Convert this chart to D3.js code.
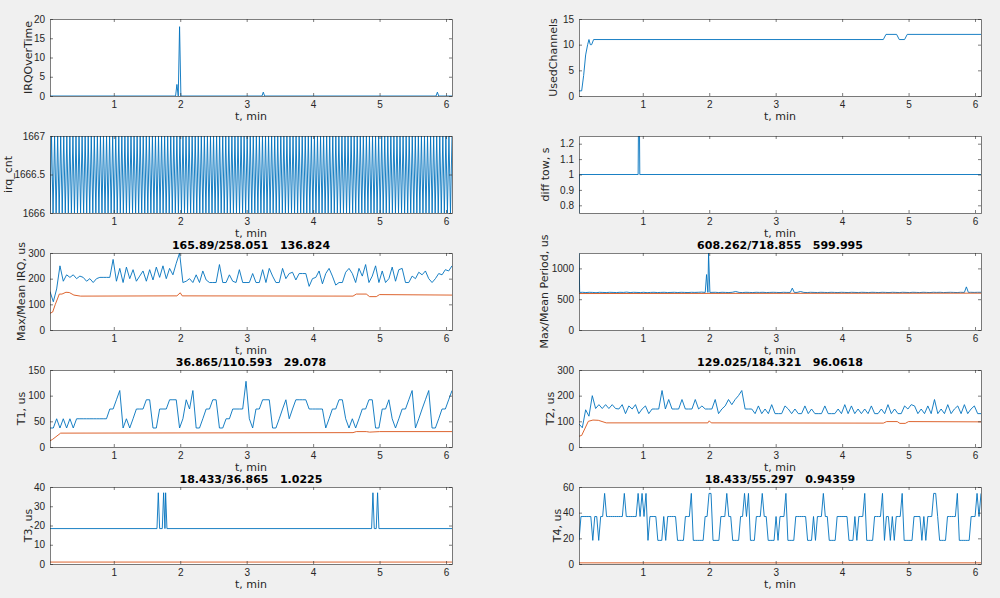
<!DOCTYPE html>
<html>
<head>
<meta charset="utf-8">
<style>
	body { margin: 0; background: #f0f0f0; }
	svg { display: block; font-family: "DejaVu Sans", sans-serif; }
	.tick text { fill: #262626; font-size: 10px; }
</style>
</head>
<body>
<svg id="fig" width="1000" height="598"></svg>
<script src="https://cdn.jsdelivr.net/npm/d3@7"></script>
<script>
// time span shared by every panel (minutes)
var tStart = 0.04, tEnd = 6.09;
var xTicks = [1, 2, 3, 4, 5, 6];

// sparse series as [t, value]
var irqOverTime = [[0.04,0],[1.93,0],[1.95,3],[1.97,0],[1.99,18],[2.01,0],[3.23,0],[3.25,1],[3.27,0],[5.85,0],[5.87,1],[5.89,0],[6.09,0]];
var usedChannels = [[0.04,1],[0.08,1],[0.11,4],[0.14,8],[0.17,10],[0.19,11],[0.21,10],[0.23,10],[0.26,11],[4.62,11],[4.66,12],[4.82,12],[4.86,11],[4.94,11],[4.98,12],[6.09,12]];
var diffTow = [[0.04,0.75],[0.045,1],[0.93,1],[0.935,1.3],[0.95,1.3],[0.955,1],[6.09,1]];
var t3Max = [[0.04,18.4],[1.65,18.4],[1.67,37],[1.69,18.4],[1.73,18.4],[1.75,37],[1.77,18.4],[1.78,37],[1.80,18.4],[4.88,18.4],[4.90,37],[4.92,18.4],[4.95,18.4],[4.97,37],[4.99,18.4],[6.09,18.4]];
var t3Mean = [[0.04,1],[6.09,1]];
var t4Mean = [[0.04,0.9],[6.09,0.9]];
var irqMean = [[0.04,65],[0.08,70],[0.12,100],[0.18,140],[0.22,140],[0.28,147],[0.33,146],[0.4,136],[0.5,132],[1.95,133],[2.0,145],[2.03,133],[4.6,132],[4.65,140],[4.8,140],[4.85,130],[4.95,130],[5.0,138],[6.09,136]];
var periodMean = [[0.04,592],[6.09,598]];
var t1Mean = [[0.04,12],[0.08,15],[0.2,27],[4.6,28],[4.65,30],[4.8,30],[4.85,29],[5.0,30],[6.09,30]];
var t2Mean = [[0.04,42],[0.08,45],[0.18,100],[0.25,105],[0.33,104],[0.45,94],[1.98,94],[2.0,102],[2.03,94],[4.62,93],[4.67,99],[4.83,99],[4.87,92],[4.95,92],[5.0,99],[6.09,98]];
var periodSpikes = [[0.04,1250],[0.05,610],[1.94,610],[1.96,900],[1.98,610],[1.99,1250],[2.01,610],[3.22,610],[3.25,680],[3.28,610],[5.84,610],[5.87,700],[5.9,610]];

// evenly sampled series, spread across [tStart, tEnd]
var irqCnt = ("0101010101010101010101010101010101010101" +
	"0101010101010101010101010101010101010101" +
	"0101010101010101010101010101010101010101" +
	"0101010101010101010101010101010101010101" +
	"0101010101010101010101010101010101010101" +
	"0101010101010101010101010101010101010101" +
	"010101010101010101010101").split("").map(Number);
var irqMax = [150,110,160,250,190,215,205,215,200,210,205,190,200,185,200,205,205,205,205,275,190,240,185,245,200,235,190,210,230,190,
	235,195,245,205,250,200,240,215,260,300,185,190,200,185,215,185,230,195,185,185,185,255,185,185,215,190,185,235,185,185,
	185,220,185,185,235,185,240,210,185,185,240,200,220,225,195,220,220,220,170,200,205,230,180,220,240,210,175,185,185,225,
	240,220,185,240,210,255,185,210,250,185,230,185,200,245,190,235,240,185,185,210,200,225,215,230,200,185,200,220,215,235,230,250];
var periodJitter = [610,612,608,612,610,605,612,610,608,612,610,608,612,610,615,608,612,610,608,612,606,610,612,608,610,612,608,610,612,
	608,612,610,608,612,610,612,615,610,612,610,612,608,612,610,608,612,625,610,608,612,610,608,612,610,612,608,610,612,610,
	608,612,610,612,620,610,625,610,608,612,610,608,612,610,608,612,610,608,612,610,608,612,610,608,612,610,608,612,610,
	608,612,610,608,612,610,608,612,610,608,612,610,608,612,610,608,612,610,612,608,610,612,610,608,612,610,610,612,610,612,612];
var t1Max = [37,37,55,37,55,37,55,37,55,55,55,55,55,55,55,55,55,55,74,74,92,110,37,55,37,55,74,74,74,92,
	92,37,37,74,74,74,92,92,92,37,55,92,74,110,37,37,55,74,74,92,92,37,37,55,55,74,74,74,74,128,
	55,37,74,74,92,92,92,37,37,55,74,92,55,74,92,92,92,92,74,74,74,74,74,37,55,74,74,92,92,55,
	37,55,37,55,74,74,92,92,37,37,74,74,92,55,37,55,74,74,92,110,37,55,74,92,110,37,37,55,74,74,92,110];
var t2Max = [90,75,145,120,200,150,165,150,165,150,165,150,148,165,130,160,148,165,130,148,160,130,148,148,148,220,148,185,148,148,
	148,185,148,148,148,185,148,160,148,148,148,185,130,148,160,185,165,185,200,220,148,148,148,130,160,130,148,130,165,130,
	130,130,160,148,130,148,130,130,160,130,148,130,130,130,160,130,130,130,148,130,165,130,160,130,148,130,148,130,160,130,
	130,148,130,165,130,148,130,130,160,148,165,160,130,148,130,160,130,185,130,148,130,165,130,148,160,130,165,130,148,160,130,130];
var t4Max = [18,37,37,37,37,37,37,18,37,37,18,37,37,55,37,37,37,37,37,37,37,37,37,55,37,37,37,37,37,37,
	55,37,55,37,55,18,37,37,37,37,18,18,18,37,18,37,37,37,37,37,18,18,18,18,37,37,37,55,18,18,
	18,18,18,18,37,37,55,55,18,18,18,18,37,37,37,55,37,37,18,18,18,18,37,37,55,37,55,18,18,18,
	37,37,37,55,37,37,18,18,18,18,37,18,37,37,37,55,18,18,18,18,37,37,37,37,37,37,18,18,18,37,
	18,37,37,37,55,37,37,18,18,18,18,37,37,37,37,37,37,18,18,18,37,18,37,37,37,55,18,18,18,18,
	37,37,37,37,55,18,37,37,18,37,18,37,37,37,55,18,18,18,18,18,37,37,37,37,18,37,18,37,37,37,
	55,55,37,18,18,18,18,37,37,37,37,37,55,18,18,18,18,18,18,37,37,37,55,37,55];

function spread(vals) {
	var dt = (tEnd - tStart) / (vals.length - 1);
	return vals.map(function(v, i) { return [tStart + i * dt, v]; });
}
// overlay sparse spikes onto an evenly sampled series
function merge(base, spikes) {
	return base.concat(spikes).sort(function(a, b) { return a[0] - b[0]; });
}

var blue = "#0072bd", orange = "#d95319";
var colX = [50, 579], axW = 402;
var rowY = [19, 136, 253, 370, 487], axH = 77;

var panels = [
	{ col: 0, row: 0, label: "IRQOverTime", lx: -18, y: [0, 20], yt: [0,5,10,15,20], series: [[irqOverTime, blue]] },
	{ col: 1, row: 0, label: "UsedChannels", lx: -22, y: [0, 15], yt: [0,5,10,15], series: [[usedChannels, blue]] },
	{ col: 0, row: 1, label: "irq_cnt", lx: -38, y: [1666, 1667], yt: [1666,1666.5,1667], series: [[spread(irqCnt.map(function(v) { return 1666 + v; })), blue]] },
	{ col: 1, row: 1, label: "diff tow, s", lx: -30, y: [0.75, 1.25], yt: [0.8,0.9,1,1.1,1.2], series: [[diffTow, blue]] },
	{ col: 0, row: 2, label: "Max/Mean IRQ, us", lx: -25, title: "165.89/258.051   136.824", y: [0, 300], yt: [0,100,200,300], series: [[spread(irqMax), blue], [irqMean, orange]] },
	{ col: 1, row: 2, label: "Max/Mean Period, us", lx: -31, title: "608.262/718.855   599.995", y: [0, 1250], yt: [0,500,1000], series: [[merge(spread(periodJitter).filter(function(d) { return !periodSpikes.some(function(s) { return Math.abs(s[0] - d[0]) < 0.03; }); }), periodSpikes), blue], [periodMean, orange]] },
	{ col: 0, row: 3, label: "T1, us", lx: -25, title: "36.865/110.593   29.078", y: [0, 150], yt: [0,50,100,150], series: [[spread(t1Max), blue], [t1Mean, orange]] },
	{ col: 1, row: 3, label: "T2, us", lx: -25, title: "129.025/184.321   96.0618", y: [0, 300], yt: [0,100,200,300], series: [[spread(t2Max), blue], [t2Mean, orange]] },
	{ col: 0, row: 4, label: "T3, us", lx: -18, title: "18.433/36.865   1.0225", y: [0, 40], yt: [0,10,20,30,40], series: [[t3Max, blue], [t3Mean, orange]] },
	{ col: 1, row: 4, label: "T4, us", lx: -18, title: "18.433/55.297   0.94359", y: [0, 60], yt: [0,20,40,60], series: [[spread(t4Max.map(function(v) { return v === 18 ? 18.4 : v; })), blue], [t4Mean, orange]] }
];

var svg = d3.select("#fig");

panels.forEach(function(p, k) {
	var x0 = colX[p.col], y0 = rowY[p.row];
	var x = d3.scaleLinear().domain([tStart, tEnd]).range([0, axW]);
	var y = d3.scaleLinear().domain(p.y).range([axH, 0]);
	var g = svg.append("g").attr("transform", "translate(" + x0 + "," + y0 + ")");

	g.append("rect").attr("width", axW).attr("height", axH).attr("fill", "#fff");
	g.append("clipPath").attr("id", "c" + k).append("rect").attr("width", axW).attr("height", axH);

	var line = d3.line().x(function(d) { return x(d[0]); }).y(function(d) { return y(d[1]); });
	p.series.forEach(function(s) {
		g.append("path").datum(s[0]).attr("d", line).attr("clip-path", "url(#c" + k + ")")
			.attr("fill", "none").attr("stroke", s[1]).attr("stroke-width", 0.9);
	});

	var fmt = function(d) { return String(d); };
	var axes = [
		[d3.axisBottom(x).tickValues(xTicks).tickFormat(fmt), "translate(0," + axH + ")", true],
		[d3.axisTop(x).tickValues(xTicks), "", false],
		[d3.axisLeft(y).tickValues(p.yt).tickFormat(fmt), "", true],
		[d3.axisRight(y).tickValues(p.yt), "translate(" + axW + ",0)", false]
	];
	axes.forEach(function(a) {
		var ax = g.append("g").attr("transform", a[1])
			.call(a[0].tickSizeInner(-3).tickSizeOuter(0).tickPadding(a[2] ? 5 : 0));
		ax.select(".domain").attr("stroke", "#262626").attr("stroke-width", 0.6);
		ax.selectAll(".tick line").attr("stroke", "#262626").attr("stroke-width", 0.6);
		if (!a[2]) ax.selectAll(".tick text").remove();
	});

	g.append("text").attr("x", axW / 2).attr("y", axH + 24).attr("text-anchor", "middle")
		.attr("font-size", 11).attr("fill", "#262626").text("t, min");
	g.append("text").attr("transform", "translate(" + p.lx + "," + (axH / 2) + ") rotate(-90)")
		.attr("text-anchor", "middle").attr("font-size", 11).attr("fill", "#262626").text(p.label);
	if (p.title) {
		g.append("text").attr("x", axW / 2).attr("y", -4).attr("text-anchor", "middle")
			.style("white-space", "pre")
			.attr("font-size", 11).attr("font-weight", "bold").attr("fill", "#000").text(p.title);
	}
});
</script>
</body>
</html>
